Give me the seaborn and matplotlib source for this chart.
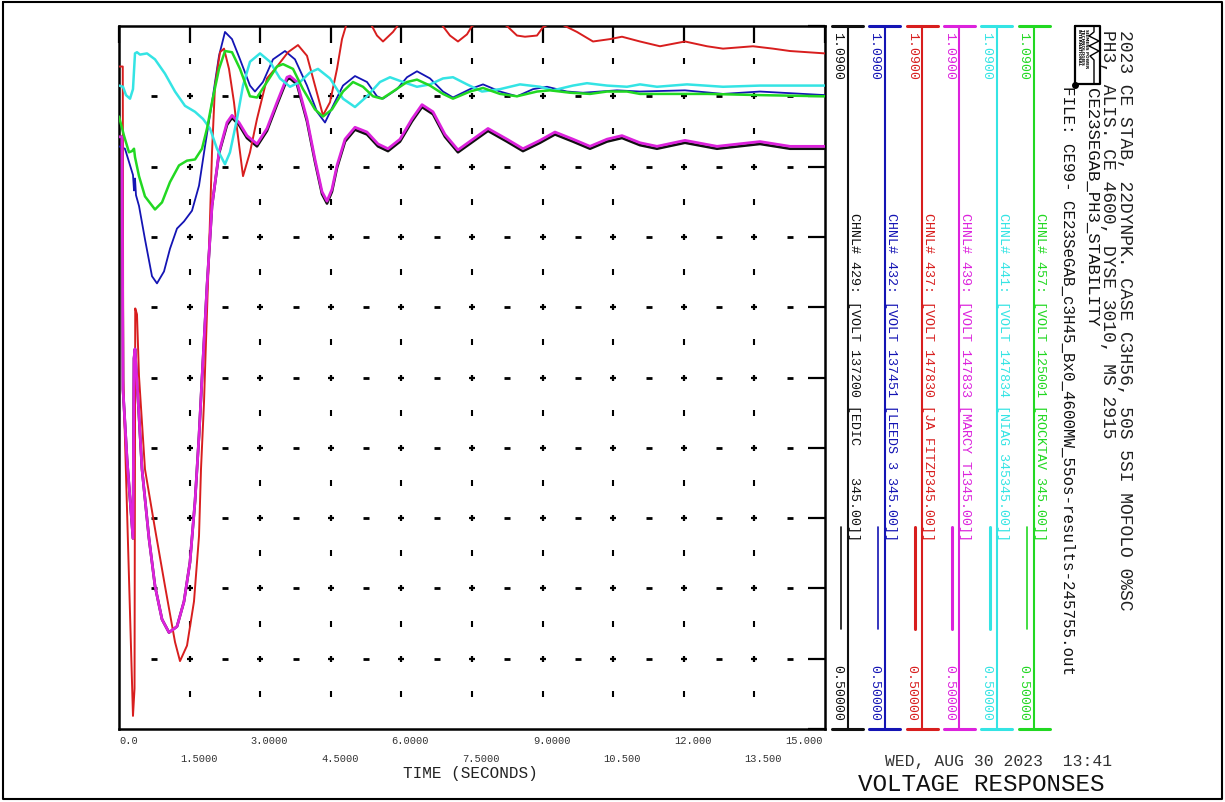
import numpy as np
import pandas as pd
import matplotlib
matplotlib.use("Agg")
import matplotlib.pyplot as plt
import matplotlib.transforms as mtransforms
import seaborn as sns

# ---- values (time in s, voltage in pu) ----
time_429 = [0.0, 0.064, 0.085, 0.170, 0.297, 0.319, 0.340, 0.404, 0.489, 0.637, 0.765, 0.914, 1.062, 1.232,
            1.381, 1.508, 1.615, 1.700, 1.763, 1.870, 1.976, 2.125, 2.295, 2.401, 2.550, 2.719, 2.932, 3.144,
            3.357, 3.569, 3.633, 3.782, 3.994, 4.164, 4.313, 4.419, 4.525, 4.632, 4.802, 5.014, 5.269, 5.503,
            5.715, 5.970, 6.225, 6.438, 6.671, 6.926, 7.202, 7.521, 7.840, 8.243, 8.583, 8.945, 9.263, 9.646,
            10.007, 10.368, 10.687, 11.069, 11.430, 12.025, 12.705, 13.619, 14.256, 15.0]
volt_429 = [0.997, 0.997, 0.785, 0.727, 0.660, 0.811, 0.819, 0.777, 0.718, 0.660, 0.620, 0.592, 0.581, 0.586,
            0.607, 0.640, 0.691, 0.746, 0.794, 0.872, 0.939, 0.983, 1.007, 1.013, 1.007, 0.996, 0.989, 1.002,
            1.024, 1.045, 1.046, 1.041, 1.010, 0.976, 0.949, 0.941, 0.951, 0.971, 0.993, 1.003, 0.999, 0.989,
            0.985, 0.993, 1.010, 1.022, 1.016, 0.997, 0.984, 0.993, 1.002, 0.993, 0.985, 0.992, 0.999, 0.993,
            0.987, 0.993, 0.996, 0.990, 0.987, 0.992, 0.987, 0.991, 0.987, 0.987]

time_432 = [0.0, 0.127, 0.212, 0.297, 0.319, 0.340, 0.361, 0.425, 0.552, 0.701, 0.807, 0.956, 1.083, 1.232,
            1.381, 1.551, 1.700, 1.827, 1.976, 2.125, 2.252, 2.401, 2.571, 2.783, 2.889, 3.059, 3.272, 3.527,
            3.739, 3.994, 4.207, 4.377, 4.547, 4.759, 5.014, 5.269, 5.481, 5.609, 5.906, 6.119, 6.331, 6.608,
            6.884, 7.096, 7.457, 7.734, 8.095, 8.456, 8.796, 9.093, 9.518, 9.858, 10.219, 10.581, 11.069,
            12.025, 12.833, 13.619, 15.0]
volt_432 = [0.989, 0.987, 0.976, 0.965, 0.952, 0.962, 0.948, 0.939, 0.911, 0.880, 0.874, 0.884, 0.903, 0.920,
            0.926, 0.935, 0.956, 0.989, 1.026, 1.065, 1.085, 1.079, 1.062, 1.040, 1.035, 1.043, 1.062, 1.069,
            1.062, 1.040, 1.018, 1.009, 1.023, 1.040, 1.048, 1.043, 1.031, 1.029, 1.037, 1.047, 1.052, 1.046,
            1.035, 1.030, 1.037, 1.041, 1.035, 1.031, 1.037, 1.039, 1.035, 1.034, 1.035, 1.036, 1.035,
            1.036, 1.033, 1.035, 1.032]

time_437 = [0.0, 0.080, 0.090, 0.297, 0.330, 0.345, 0.382, 0.425, 0.552, 0.765, 0.977, 1.190, 1.296, 1.445,
            1.593, 1.700, 1.742, 1.806, 1.827, 1.912, 1.976, 2.040, 2.146, 2.231, 2.337, 2.443, 2.507, 2.635,
            2.783, 2.932, 3.144, 3.357, 3.591, 3.803, 3.994, 4.164, 4.334, 4.483, 4.632, 4.738, 4.844, 5.080,
            5.333, 5.481, 5.609, 5.821, 5.970, 6.400, 6.820, 7.032, 7.202, 7.394, 7.500, 7.900, 8.243, 8.456,
            8.626, 8.881, 9.008, 9.260, 9.476, 9.731, 10.071, 10.432, 10.687, 11.069, 11.494, 12.025, 12.493,
            12.833, 13.470, 13.895, 14.256, 15.0]
volt_437 = [1.056, 1.056, 0.794, 0.511, 0.534, 0.853, 0.848, 0.796, 0.718, 0.668, 0.620, 0.573, 0.557, 0.570,
            0.607, 0.662, 0.718, 0.774, 0.800, 0.900, 0.984, 1.040, 1.068, 1.071, 1.054, 1.026, 1.004, 0.964,
            0.984, 1.012, 1.046, 1.056, 1.068, 1.074, 1.065, 1.040, 1.015, 1.026, 1.054, 1.079, 1.093, 1.108,
            1.093, 1.082, 1.077, 1.085, 1.093, 1.102, 1.093, 1.082, 1.077, 1.083, 1.090, 1.097, 1.090, 1.082,
            1.081, 1.082, 1.089, 1.094, 1.090, 1.085, 1.077, 1.079, 1.081, 1.077, 1.073, 1.077, 1.073,
            1.071, 1.073, 1.071, 1.069, 1.067]

time_439 = [0.0, 0.064, 0.085, 0.170, 0.297, 0.319, 0.340, 0.404, 0.489, 0.637, 0.765, 0.914, 1.062, 1.232,
            1.381, 1.508, 1.615, 1.700, 1.763, 1.870, 1.976, 2.125, 2.295, 2.401, 2.550, 2.719, 2.932, 3.144,
            3.357, 3.569, 3.633, 3.782, 3.994, 4.164, 4.313, 4.419, 4.525, 4.632, 4.802, 5.014, 5.269, 5.503,
            5.715, 5.970, 6.225, 6.438, 6.671, 6.926, 7.202, 7.521, 7.840, 8.243, 8.583, 8.945, 9.263, 9.646,
            10.007, 10.368, 10.687, 11.069, 11.430, 12.025, 12.705, 13.619, 14.256, 15.0]
volt_439 = [0.997, 0.997, 0.785, 0.727, 0.660, 0.811, 0.819, 0.777, 0.718, 0.660, 0.620, 0.592, 0.581, 0.586,
            0.607, 0.640, 0.691, 0.746, 0.794, 0.872, 0.939, 0.984, 1.009, 1.015, 1.009, 0.998, 0.991, 1.004,
            1.026, 1.047, 1.048, 1.043, 1.012, 0.978, 0.951, 0.943, 0.953, 0.973, 0.995, 1.005, 1.001, 0.991,
            0.987, 0.995, 1.012, 1.024, 1.018, 0.999, 0.986, 0.995, 1.004, 0.995, 0.987, 0.994, 1.001, 0.995,
            0.989, 0.995, 0.998, 0.992, 0.989, 0.994, 0.989, 0.993, 0.989, 0.989]

time_441 = [0.0, 0.085, 0.149, 0.234, 0.297, 0.340, 0.382, 0.446, 0.595, 0.765, 0.977, 1.190, 1.402, 1.615,
            1.785, 1.933, 2.082, 2.252, 2.358, 2.507, 2.635, 2.783, 2.996, 3.208, 3.421, 3.633, 3.846, 4.058,
            4.228, 4.483, 4.759, 5.014, 5.269, 5.545, 5.758, 6.034, 6.331, 6.608, 6.884, 7.096, 7.394, 7.712,
            8.095, 8.520, 8.945, 9.221, 9.646, 9.943, 10.368, 10.793, 11.069, 11.430, 12.068, 12.833, 13.619,
            15.0]
volt_441 = [1.040, 1.039, 1.032, 1.029, 1.037, 1.067, 1.068, 1.066, 1.067, 1.062, 1.050, 1.035, 1.023, 1.018,
            1.012, 1.004, 0.987, 0.974, 0.984, 1.012, 1.040, 1.060, 1.067, 1.060, 1.046, 1.039, 1.043, 1.051,
            1.054, 1.046, 1.029, 1.022, 1.031, 1.043, 1.047, 1.043, 1.039, 1.041, 1.046, 1.047, 1.041, 1.035,
            1.037, 1.041, 1.039, 1.036, 1.040, 1.042, 1.040, 1.039, 1.041, 1.039, 1.041, 1.039, 1.040,
            1.040]

time_457 = [0.0, 0.106, 0.212, 0.276, 0.319, 0.340, 0.425, 0.552, 0.765, 0.914, 1.083, 1.275, 1.445, 1.615,
            1.763, 1.870, 1.976, 2.125, 2.252, 2.401, 2.571, 2.783, 2.932, 3.144, 3.357, 3.484, 3.697, 3.909,
            4.164, 4.334, 4.525, 4.759, 4.972, 5.184, 5.397, 5.588, 5.821, 6.119, 6.331, 6.608, 6.884, 7.096,
            7.457, 7.734, 8.095, 8.456, 8.881, 9.157, 9.582, 10.007, 10.368, 10.793, 11.069, 12.5, 13.619, 15.0]
volt_457 = [1.014, 0.998, 0.984, 0.985, 0.987, 0.980, 0.964, 0.947, 0.936, 0.942, 0.959, 0.973, 0.977, 0.978,
            0.987, 1.004, 1.026, 1.054, 1.069, 1.068, 1.054, 1.031, 1.030, 1.043, 1.056, 1.058, 1.054, 1.037,
            1.020, 1.014, 1.020, 1.035, 1.043, 1.039, 1.031, 1.029, 1.035, 1.043, 1.045, 1.040, 1.033, 1.029,
            1.035, 1.038, 1.033, 1.031, 1.035, 1.036, 1.034, 1.033, 1.035, 1.035, 1.033, 1.033, 1.032, 1.031]

channels = ["429", "432", "437", "439", "441", "457"]
chan_labels = [
    "CHNL# 429: [VOLT 137200 [EDIC    345.00]]",
    "CHNL# 432: [VOLT 137451 [LEEDS 3 345.00]]",
    "CHNL# 437: [VOLT 147830 [JA FITZP345.00]]",
    "CHNL# 439: [VOLT 147833 [MARCY T1345.00]]",
    "CHNL# 441: [VOLT 147834 [NIAG 345345.00]]",
    "CHNL# 457: [VOLT 125001 [ROCKTAV 345.00]]",
]
scale_max = ["1.0900"] * 6
scale_min = ["0.50000"] * 6
x_tick_labels = ["0.0", "1.5000", "3.0000", "4.5000", "6.0000", "7.5000",
                 "9.0000", "10.500", "12.000", "13.500", "15.000"]
header_lines = [
    "2023 CE STAB, 22DYNPK. CASE C3H56, 50S 5SI MOFOLO 0%SC",
    "PH3, ALIS. CE 4600, DYSE 3010, MS 2915",
]
case_name = "CE23SEGAB_PH3_STABILITY"
file_line = "FILE: CE99- CE23SeGAB_c3H45_Bx0_4600MW_55os-results-245755.out"

colors = ["#101010", "#1414b4", "#d81e1e", "#dc22dc", "#34e4e4", "#22d822"]
widths = [1.9, 1.3, 1.4, 2.0, 1.8, 1.8]
sample_w = [1.2, 1.2, 2.2, 2.2, 2.2, 1.2]

df = pd.concat([
    pd.DataFrame({"time": time_429, "volt": volt_429, "chan": "429"}),
    pd.DataFrame({"time": time_432, "volt": volt_432, "chan": "432"}),
    pd.DataFrame({"time": time_437, "volt": volt_437, "chan": "437"}),
    pd.DataFrame({"time": time_439, "volt": volt_439, "chan": "439"}),
    pd.DataFrame({"time": time_441, "volt": volt_441, "chan": "441"}),
    pd.DataFrame({"time": time_457, "volt": volt_457, "chan": "457"}),
])

sns.set_style("white")
plt.rcParams["font.family"] = ["Liberation Mono", "DejaVu Sans Mono"]

W, H = 1225, 803
fig = plt.figure(figsize=(W / 100, H / 100), dpi=100)
ax = fig.add_axes([119 / W, 1 - 730 / H, 706 / W, 703 / H])

x_lo, x_hi, y_lo, y_hi = 0.0, 15.0, 0.5, 1.09
xt = np.linspace(x_lo, x_hi, 11)
yt = np.linspace(y_lo, y_hi, 11)

# dotted PSS/E style grid
xg = np.linspace(x_lo, x_hi, 21)[1:-1]
for yv in yt[1:-1]:
    ax.plot(xg[1::2], [yv] * len(xg[1::2]), ls="none", marker="+", ms=5, mew=1.6, color="k", zorder=1)
    ax.plot(xg[0::2], [yv] * len(xg[0::2]), ls="none", marker="_", ms=4, mew=2, color="k", zorder=1)
for yv in (yt[:-1] + yt[1:]) / 2:
    ax.plot(xg[1::2], [yv] * len(xg[1::2]), ls="none", marker="|", ms=4, mew=1.5, color="k", zorder=1)

for ch, col, lw in zip(channels, colors, widths):
    sub = df[df["chan"] == ch]
    sns.lineplot(data=sub, x="time", y="volt", ax=ax, color=col, lw=lw,
                 estimator=None, sort=False, legend=False, zorder=3)

ax.set_xlim(x_lo, x_hi)
ax.set_ylim(y_lo, y_hi)
ax.set_xlabel("")
ax.set_ylabel("")
ax.set_xticks(xt)
ax.set_yticks(yt)
ax.tick_params(direction="in", length=12.5, width=1.6, color="k", top=True, right=True,
               labelbottom=False, labelleft=False)
for s in ax.spines.values():
    s.set_linewidth(1.8)
    s.set_color("k")

# staggered x tick labels
for i, (xv, lab) in enumerate(zip(xt, x_tick_labels)):
    dy = -11 if i % 2 == 0 else -29
    if i == 0:
        ha, dx = "left", 0
    elif i == len(xt) - 1:
        ha, dx = "right", -2
    else:
        ha, dx = "center", 9
    tr = mtransforms.offset_copy(ax.get_xaxis_transform(), fig=fig, x=dx, y=dy, units="dots")
    ax.text(xv, 0, lab, transform=tr, ha=ha, va="center", fontsize=7.5, color="#333333")

# overlay in pixel coordinates for the channel scales and titles
ov = fig.add_axes([0, 0, 1, 1], zorder=5)
ov.set_xlim(0, W)
ov.set_ylim(H, 0)
ov.axis("off")

ov.plot([3, 1222, 1222, 3, 3], [3, 3, 800, 800, 3], color="k", lw=1.5)

ov.text(470, 774, "TIME (SECONDS)", ha="center", va="center", fontsize=11.5, color="#222222")


def vtext(x, y, s, size, color, **kw):
    # text read top-to-bottom, anchored at the start of its baseline
    ov.text(x, y, s, rotation=-90, rotation_mode="anchor", ha="left", va="baseline",
            fontsize=size, color=color, **kw)


def vtext_end(x, y, s, size, color):
    ov.text(x, y, s, rotation=-90, rotation_mode="anchor", ha="right", va="baseline",
            fontsize=size, color=color)


for i, (lab, col) in enumerate(zip(chan_labels, colors)):
    cx = 847.5 + 37.3 * i
    ov.plot([cx, cx], [27, 730], color=col, lw=1.5)
    ov.plot([cx - 15.5, cx + 15.5], [27, 27], color=col, lw=2.2)
    ov.plot([cx - 15.5, cx + 15.5], [730, 730], color=col, lw=2.2)
    ov.plot([cx - 7, cx - 7], [528, 630], color=col, lw=sample_w[i])
    vtext(cx - 13.5, 32, scale_max[i], 9.5, col)
    vtext_end(cx - 13.5, 721, scale_min[i], 9.5, col)
    vtext(cx + 3, 213, lab, 9.6, col)

# header block
vtext(1120, 30, header_lines[0], 13, "#222222")
vtext(1103, 30, header_lines[1], 13, "#222222")
vtext(1087, 88, case_name, 12.5, "#111111")
vtext(1063, 86, file_line, 11.4, "#111111")

# logo box
ov.plot([1075, 1100, 1100, 1075, 1075], [27, 27, 85, 85, 27], color="k", lw=1.6)
ov.plot([1094, 1094, 1089, 1099, 1089, 1099, 1090, 1094, 1094],
        [27, 33, 37, 42, 47, 52, 57, 61, 85], color="k", lw=1.0)
for j, word in enumerate(["SIEMENS POWER", "TECHNOLOGIES", "INTERNATIONAL"]):
    vtext(1085 - 3.6 * j, 29, word, 3.0, "k", family="DejaVu Sans", weight="bold")
ov.plot([1075], [86], marker="o", ms=4, color="k")

ov.text(885, 762, "WED, AUG 30 2023  13:41", ha="left", va="center", fontsize=11.8, color="#333333")
ov.text(858, 785, "VOLTAGE RESPONSES", ha="left", va="center", fontsize=17.5, color="#111111")

fig.savefig("out.png", dpi=100)
